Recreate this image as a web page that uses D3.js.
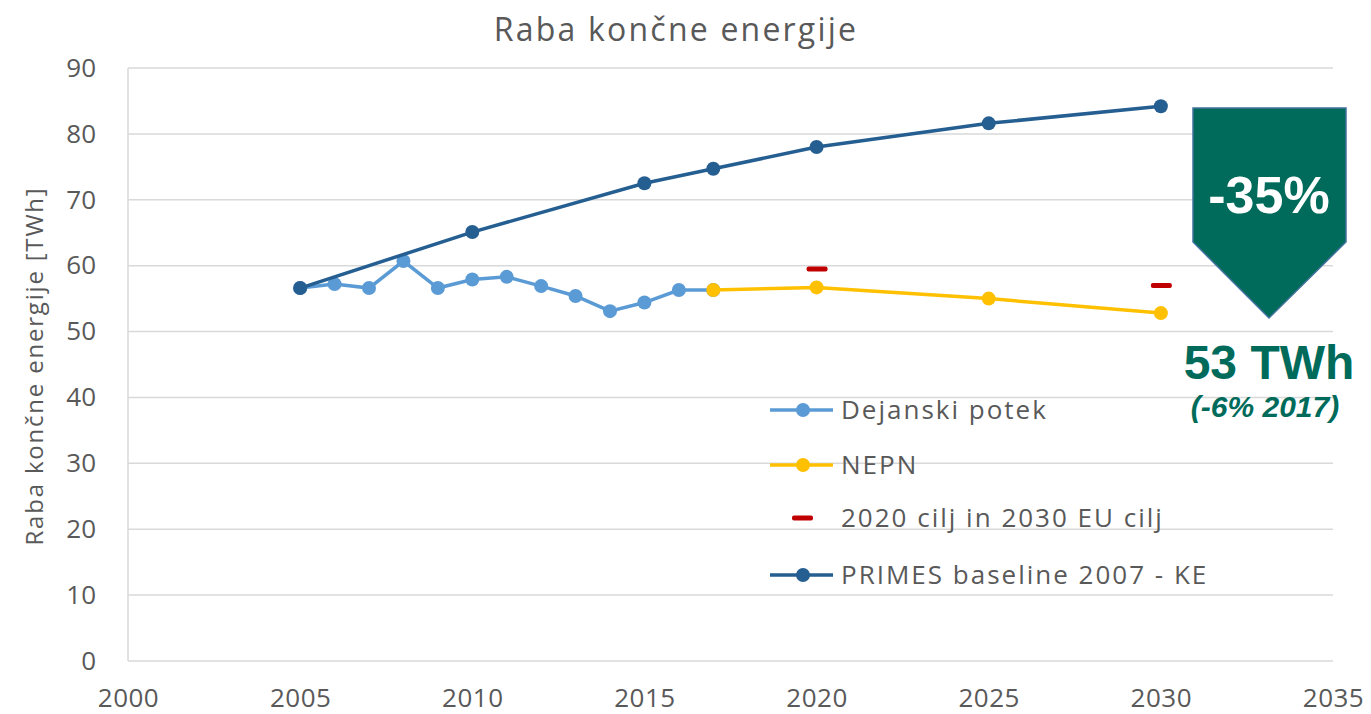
<!DOCTYPE html>
<html>
<head>
<meta charset="utf-8">
<script src="https://cdn.jsdelivr.net/npm/d3@7"></script>
<style>
  body { margin: 0; background: #fff; }
  svg text { font-family: "Open Sans", sans-serif; }
</style>
</head>
<body>
<div id="graph"></div>
<script>
"use strict";

var width = 1371,
    height = 714;

// data
const dejanskiYears = [2005, 2006, 2007, 2008, 2009, 2010, 2011, 2012, 2013, 2014, 2015, 2016, 2017];
const dejanskiVals  = [56.6, 57.2, 56.6, 60.7, 56.6, 57.9, 58.3, 56.9, 55.4, 53.1, 54.4, 56.3, 56.3];

const nepnYears = [2017, 2020, 2025, 2030];
const nepnVals  = [56.3, 56.7, 55.0, 52.8];

const ciljYears = [2020, 2030];
const ciljVals  = [59.5, 57.0];

const primesYears = [2005, 2010, 2015, 2017, 2020, 2025, 2030];
const primesVals  = [56.6, 65.1, 72.5, 74.7, 78.0, 81.6, 84.2];

const xTicks = [2000, 2005, 2010, 2015, 2020, 2025, 2030, 2035];
const yTicks = [0, 10, 20, 30, 40, 50, 60, 70, 80, 90];

const legendNames = ["Dejanski potek", "NEPN", "2020 cilj in 2030 EU cilj", "PRIMES baseline 2007 - KE"];

const cLight = "#5B9BD5", cYellow = "#FFC000", cDark = "#255E91", cRed = "#C00000",
      cTeal = "#006B5A", cText = "#595959", cGrid = "#D9D9D9";

let svg = d3.select("#graph").append("svg")
    .attr("width", width)
    .attr("height", height);

let x = d3.scaleLinear().domain([2000, 2035]).range([128, 1333]);
let y = d3.scaleLinear().domain([0, 90]).range([661, 68]);

// gridlines
svg.append("g").selectAll("line")
    .data(yTicks)
    .enter().append("line")
    .attr("x1", x(2000)).attr("x2", x(2035))
    .attr("y1", d => y(d)).attr("y2", d => y(d))
    .attr("stroke", cGrid).attr("stroke-width", 1.5);

svg.append("line")
    .attr("x1", x(2000)).attr("x2", x(2000))
    .attr("y1", y(0)).attr("y2", y(90))
    .attr("stroke", cGrid).attr("stroke-width", 1.5);

// axes
let yAxis = svg.append("g")
    .attr("transform", "translate(" + (x(2000) - 32) + ",0)")
    .call(d3.axisLeft(y).tickValues(yTicks).tickSize(0).tickPadding(0));
let xAxis = svg.append("g")
    .attr("transform", "translate(0," + (y(0) + 38) + ")")
    .call(d3.axisBottom(x).tickValues(xTicks).tickFormat(d3.format("d")).tickSize(0).tickPadding(0));
[yAxis, xAxis].forEach(a => {
    a.select(".domain").remove();
    a.selectAll("text").attr("fill", cText).style("font-size", "26px");
});
xAxis.selectAll("text").attr("dy", "0.3em").style("letter-spacing", "0.5px");

// titles
svg.append("text")
    .attr("x", 676).attr("y", 41)
    .attr("text-anchor", "middle")
    .attr("fill", cText)
    .style("font-size", "32px")
    .style("letter-spacing", "2.2px")
    .text("Raba končne energije");

svg.append("text")
    .attr("transform", "translate(43,366) rotate(-90)")
    .attr("text-anchor", "middle")
    .attr("fill", cText)
    .style("font-size", "24px")
    .style("letter-spacing", "1.8px")
    .text("Raba končne energije [TWh]");

// series
let line = d3.line().x(d => x(d[0])).y(d => y(d[1]));

function drawSeries(years, vals, color) {
    let pts = years.map((yr, i) => [yr, vals[i]]);
    let g = svg.append("g");
    g.append("path")
        .datum(pts)
        .attr("d", line)
        .attr("fill", "none")
        .attr("stroke", color)
        .attr("stroke-width", 3.5);
    g.selectAll("circle")
        .data(pts)
        .enter().append("circle")
        .attr("cx", d => x(d[0]))
        .attr("cy", d => y(d[1]))
        .attr("r", 7)
        .attr("fill", color);
}

drawSeries(dejanskiYears, dejanskiVals, cLight);
drawSeries(nepnYears, nepnVals, cYellow);
drawSeries(primesYears, primesVals, cDark);

svg.append("g").selectAll("rect")
    .data(ciljYears.map((yr, i) => [yr, ciljVals[i]]))
    .enter().append("rect")
    .attr("x", d => x(d[0]) - 10)
    .attr("y", d => y(d[1]) - 2.5)
    .attr("width", 21).attr("height", 5)
    .attr("rx", 2)
    .attr("fill", cRed);

// legend
let legendY = [410, 465, 518, 575];
let legendColors = [cLight, cYellow, cRed, cDark];
let legend = svg.append("g");
legendNames.forEach((name, i) => {
    let ly = legendY[i];
    if (i == 2) {
        legend.append("rect")
            .attr("x", 792).attr("y", ly - 2.5)
            .attr("width", 21).attr("height", 5).attr("rx", 2)
            .attr("fill", cRed);
    } else {
        legend.append("line")
            .attr("x1", 770).attr("x2", 833)
            .attr("y1", ly).attr("y2", ly)
            .attr("stroke", legendColors[i]).attr("stroke-width", 3.5);
        legend.append("circle")
            .attr("cx", 803).attr("cy", ly).attr("r", 7)
            .attr("fill", legendColors[i]);
    }
    legend.append("text")
        .attr("x", 841).attr("y", ly)
        .attr("dy", "0.35em")
        .attr("fill", cText)
        .style("font-size", "26px")
        .style("letter-spacing", "2px")
        .text(name);
});

// green arrow annotation
svg.append("path")
    .attr("d", "M1193,108 L1346,108 L1346,242 L1269,318 L1193,242 Z")
    .attr("fill", cTeal)
    .attr("stroke", "#41719C")
    .attr("stroke-width", 1.5);

svg.append("text")
    .attr("x", 1269).attr("y", 213)
    .attr("text-anchor", "middle")
    .attr("fill", "#fff")
    .style("font-family", "Liberation Sans, Arial, sans-serif")
    .style("font-weight", "bold")
    .style("font-size", "52px")
    .text("-35%");

svg.append("text")
    .attr("x", 1269).attr("y", 379)
    .attr("text-anchor", "middle")
    .attr("fill", cTeal)
    .style("font-family", "Liberation Sans, Arial, sans-serif")
    .style("font-weight", "bold")
    .style("font-size", "48px")
    .text("53 TWh");

svg.append("text")
    .attr("x", 1265).attr("y", 417)
    .attr("text-anchor", "middle")
    .attr("fill", cTeal)
    .style("font-family", "Liberation Sans, Arial, sans-serif")
    .style("font-weight", "bold")
    .style("font-style", "italic")
    .style("font-size", "30px")
    .text("(-6% 2017)");
</script>
</body>
</html>
